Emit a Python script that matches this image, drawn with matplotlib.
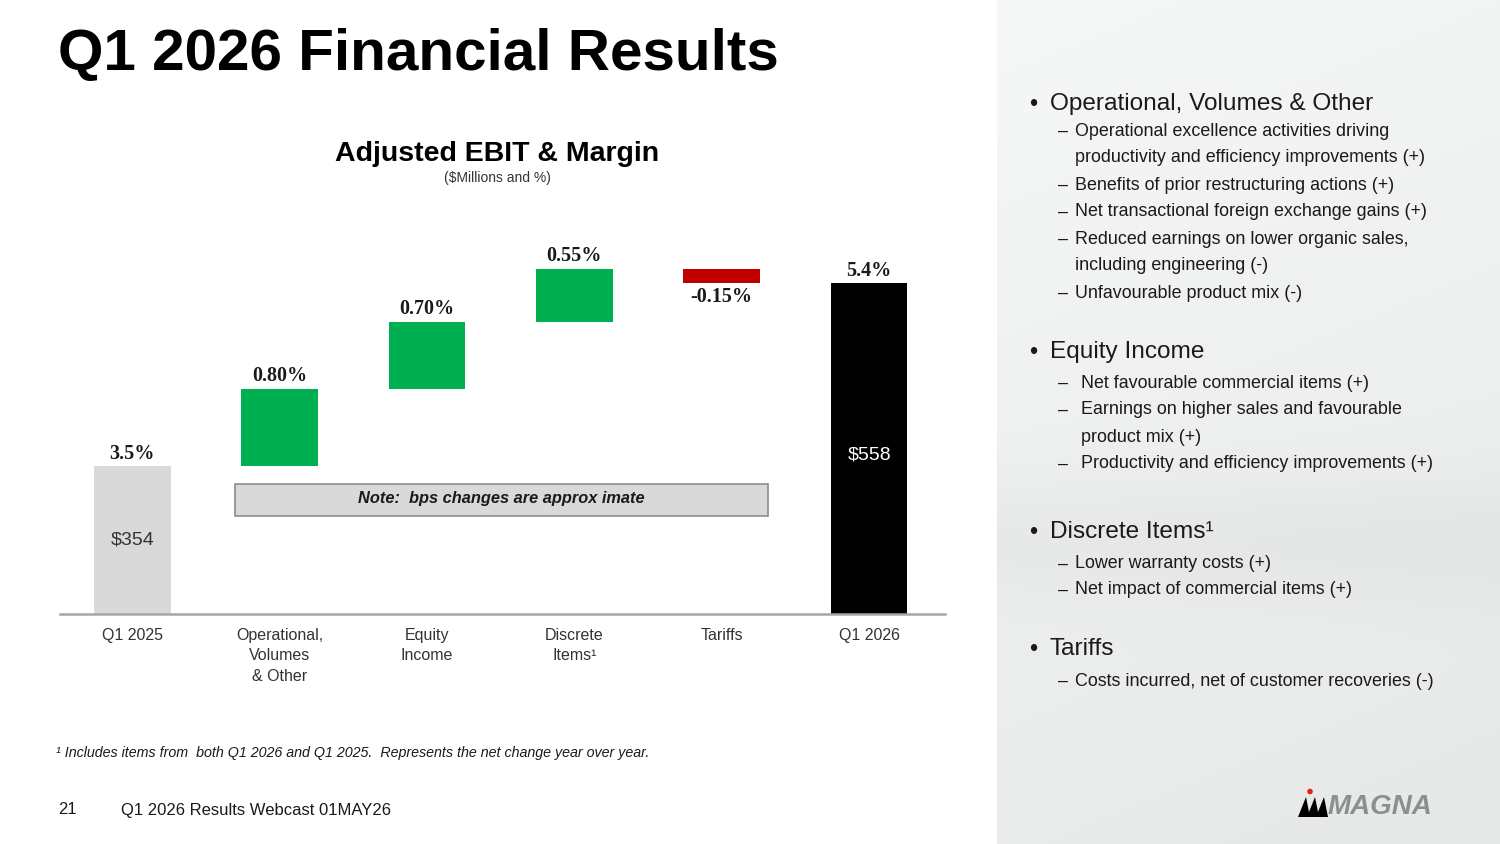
import matplotlib
matplotlib.use("Agg")
import matplotlib.pyplot as plt
import numpy as np
from matplotlib.patches import Rectangle, Polygon, Circle

# ---------------- data ----------------
categories = ["Q1 2025", "Operational,\nVolumes\n& Other", "Equity\nIncome",
              "Discrete\nItems\u00b9", "Tariffs", "Q1 2026"]
start_margin = 3.5
steps = [0.80, 0.70, 0.55, -0.15]
end_margin = 5.4
step_labels = ["0.80%", "0.70%", "0.55%", "-0.15%"]
total_labels = ["3.5%", "5.4%"]
ebit_labels = ["$354", "$558"]

bullets = [
    ("main", "Operational, Volumes & Other", 104),
    ("sub", "Operational excellence activities driving", 131),
    ("cont", "productivity and efficiency improvements (+)", 158),
    ("sub", "Benefits of prior restructuring actions (+)", 185),
    ("sub", "Net transactional foreign exchange gains (+)", 212),
    ("sub", "Reduced earnings on lower organic sales,", 239),
    ("cont", "including engineering (-)", 266),
    ("sub", "Unfavourable product mix (-)", 293),
    ("main", "Equity Income", 352),
    ("sub2", "Net favourable commercial items (+)", 383),
    ("sub2", "Earnings on higher sales and favourable", 410),
    ("cont2", "product mix (+)", 437),
    ("sub2", "Productivity and efficiency improvements (+)", 464),
    ("main", "Discrete Items\u00b9", 532),
    ("sub", "Lower warranty costs (+)", 564),
    ("sub", "Net impact of commercial items (+)", 590),
    ("main", "Tariffs", 649),
    ("sub", "Costs incurred, net of customer recoveries (-)", 681),
]

W, H = 1500, 844
fig = plt.figure(figsize=(15, 8.44), dpi=100)
fig.patch.set_facecolor("white")
SANS = ["Liberation Sans", "DejaVu Sans"]
SERIF = ["Liberation Serif", "DejaVu Serif"]

def fx(px):
    return px / W

def fy(py):
    return 1 - py / H

# ---------------- right panel background ----------------
bg = fig.add_axes([fx(997), 0, 1 - fx(997), 1], zorder=0)
rows = np.linspace(0, 1, 400)
g = 0.965 - 0.05 * rows
band = 0.025 * np.exp(-((rows - 0.64) / 0.08) ** 2)
g = g - band
img = np.tile(g[:, None], (1, 50))
cols = np.linspace(0, 1, 50)
img = img - 0.012 * cols[None, :]
bg.imshow(np.dstack([img, img + 0.004, img + 0.004]).clip(0, 1), aspect="auto",
          extent=[0, 1, 1, 0])
bg.set_xlim(0, 1)
bg.set_ylim(1, 0)
bg.axis("off")

# ---------------- titles ----------------
fig.text(fx(58), fy(55), "Q1 2026 Financial Results", fontsize=42, fontweight="bold",
         family=SANS, ha="left", va="center", color="black")
fig.text(fx(497), fy(154), "Adjusted EBIT & Margin", fontsize=20.5, fontweight="bold",
         family=SANS, ha="center", va="center", color="black")
fig.text(fx(497), fy(178), "($Millions and %)", fontsize=10, family=SANS,
         ha="center", va="center", color="#333333")

# ---------------- waterfall ----------------
ax = fig.add_axes([fx(60), fy(614), fx(945) - fx(60), fy(200) - fy(614)], zorder=2)
ax.patch.set_alpha(0)
x = np.arange(len(categories))
ymin, ymax = 1.963, 6.262
width = 0.52

ax.bar(x[0], start_margin, width=width, bottom=0, color="#d9d9d9")
cum = start_margin
for i, s in enumerate(steps):
    color = "#00b050" if s >= 0 else "#c00000"
    ax.bar(x[i + 1], s, width=width, bottom=cum, color=color)
    top = max(cum, cum + s)
    bot = min(cum, cum + s)
    if s >= 0:
        ax.annotate(step_labels[i], (x[i + 1], top), xytext=(0, 2), textcoords="offset points",
                    ha="center", va="bottom", fontsize=14.5, fontweight="bold",
                    family=SERIF, color="#1a1a1a")
    else:
        ax.annotate(step_labels[i], (x[i + 1], bot), xytext=(0, -3), textcoords="offset points",
                    ha="center", va="top", fontsize=14.5, fontweight="bold",
                    family=SERIF, color="#1a1a1a")
    cum += s
ax.bar(x[-1], end_margin, width=width, bottom=0, color="black")

for xi, val, lab in [(x[0], start_margin, total_labels[0]), (x[-1], end_margin, total_labels[1])]:
    ax.annotate(lab, (xi, val), xytext=(0, 1.5), textcoords="offset points",
                ha="center", va="bottom", fontsize=14.5, fontweight="bold",
                family=SERIF, color="#1a1a1a")

ax.text(x[0], (ymin + start_margin) / 2, ebit_labels[0], ha="center", va="center",
        fontsize=14, family=SANS, color="#333333")
ax.text(x[-1], (ymin + end_margin) / 2 - 0.07, ebit_labels[1], ha="center", va="center",
        fontsize=14, family=SANS, color="white")

ax.set_ylim(ymin, ymax)
ax.set_xlim(-0.49, 5.515)
ax.set_yticks([])
ax.set_xticks(x)
ax.set_xticklabels(categories, fontsize=11.5, family=SANS, color="#333333",
                   linespacing=1.45)
ax.tick_params(axis="x", length=0, pad=10)
for sp in ["top", "right", "left"]:
    ax.spines[sp].set_visible(False)
ax.spines["bottom"].set_color("#a6a6a6")
ax.spines["bottom"].set_linewidth(1.8)

# ---------------- note box ----------------
fig.patches.append(Rectangle((fx(235), fy(516)), fx(768) - fx(235), fy(484) - fy(516),
                             transform=fig.transFigure, facecolor="#d9d9d9",
                             edgecolor="#8c8c8c", linewidth=1.2, zorder=3))
fig.text(fx(501), fy(499), "Note:  bps changes are approx imate", fontsize=11.8,
         fontweight="bold", fontstyle="italic", family=SANS, ha="center", va="center",
         color="#1a1a1a", zorder=4)

# ---------------- footnote & footer ----------------
fig.text(fx(56), fy(753), "\u00b9 Includes items from  both Q1 2026 and Q1 2025.  Represents the net change year over year.",
         fontsize=10.3, fontstyle="italic", family=SANS, ha="left", va="center", color="#1a1a1a")
fig.text(fx(58), fy(810), "21", fontsize=12, family=SANS, ha="left", va="center", color="#1a1a1a")
fig.text(fx(121), fy(810), "Q1 2026 Results Webcast 01MAY26", fontsize=12, family=SANS,
         ha="left", va="center", color="#1a1a1a")

# ---------------- right panel text ----------------
for kind, txt, yy in bullets:
    if kind == "main":
        fig.text(fx(1029), fy(yy + 1), "\u2022", fontsize=17, family=SANS, ha="left", va="center",
                 color="#1a1a1a", zorder=5)
        fig.text(fx(1050), fy(yy), txt, fontsize=17.6, family=SANS, ha="left", va="center",
                 color="#1a1a1a", zorder=5)
    else:
        tx = 1075 if kind in ("sub", "cont") else 1081
        if kind in ("sub", "sub2"):
            fig.text(fx(1058), fy(yy), "\u2013", fontsize=12.9, family=SANS, ha="left",
                     va="center", color="#1a1a1a", zorder=5)
        fig.text(fx(tx), fy(yy), txt, fontsize=12.9, family=SANS, ha="left", va="center",
                 color="#1a1a1a", zorder=5)

# ---------------- logo ----------------
logo = fig.add_axes([fx(1295), fy(820), fx(1445) - fx(1295), fy(786) - fy(820)], zorder=5)
logo.set_xlim(0, 150)
logo.set_ylim(34, 0)
logo.axis("off")
for dx in (0, 9, 18):
    logo.add_patch(Polygon([[3 + dx, 31], [11 + dx, 11], [15 + dx, 31]], closed=True,
                           facecolor="black"))
logo.add_patch(Circle((15, 5.5), 2.8, facecolor="#e2231a"))
logo.text(33, 21, "MAGNA", fontsize=20, fontweight="bold", fontstyle="italic",
          family=SANS, color="#8c8f92", ha="left", va="center")

fig.savefig("out.png", dpi=100)
